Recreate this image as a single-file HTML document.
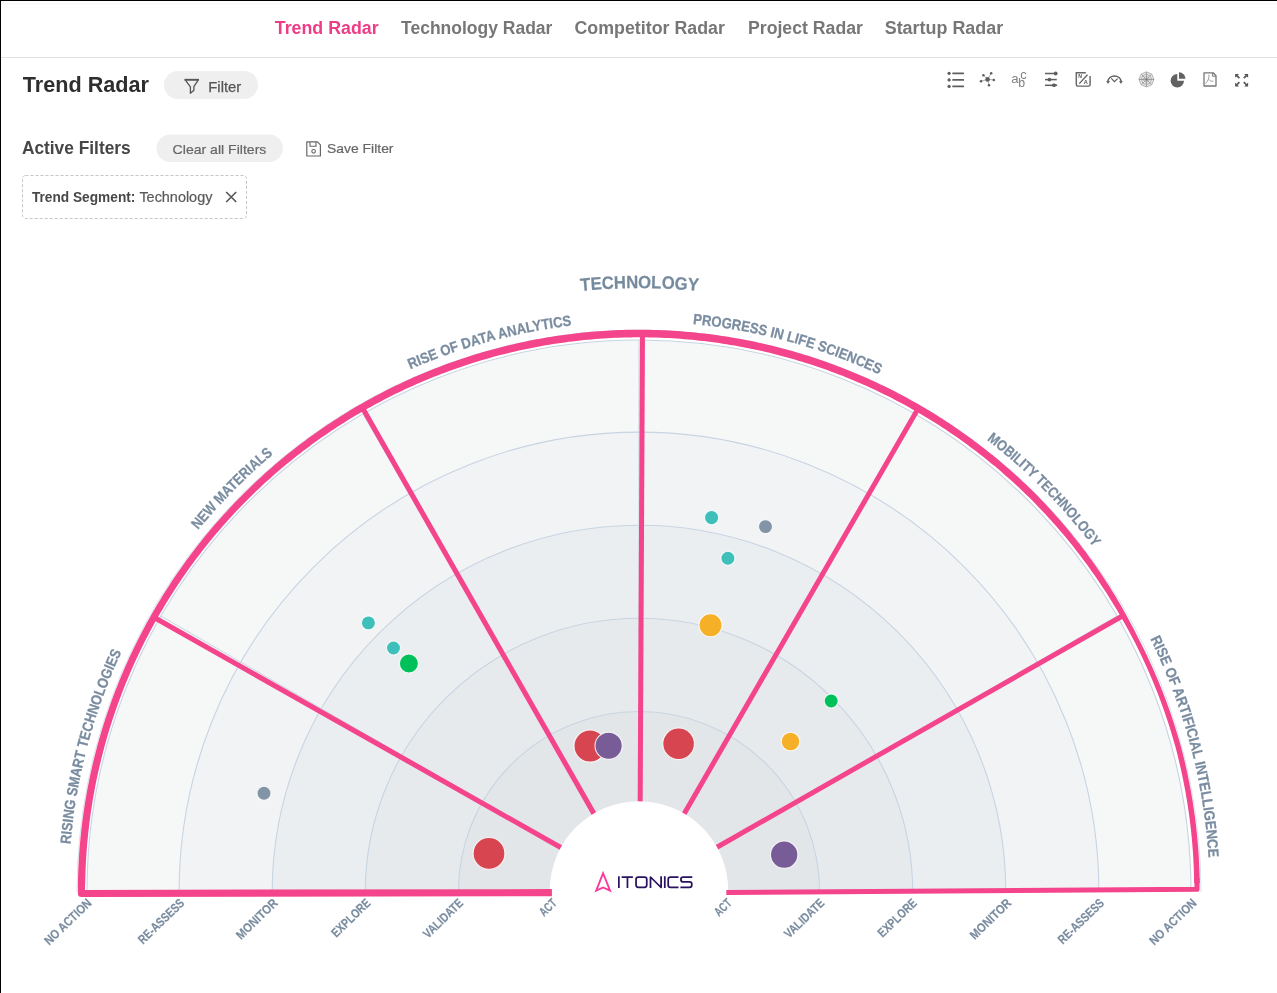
<!DOCTYPE html>
<html><head><meta charset="utf-8"><title>Trend Radar</title>
<style>
html,body{margin:0;padding:0;background:#fff;}
body{width:1277px;height:993px;overflow:hidden;position:relative;font-family:"Liberation Sans",sans-serif;}
svg.main{position:absolute;left:0;top:0;display:block;will-change:transform}
</style></head><body>
<svg class="main" width="1277" height="993" viewBox="0 0 1277 993">
<defs><path id="lblarc" d="M68.50,892.00 A570.5,570.5 0 0 1 1209.50,892.00"/><path id="techarc" d="M35.00,892.00 A604,604 0 0 1 1243.00,892.00"/></defs>
<rect x="0" y="0" width="1277" height="1" fill="#000"/>
<rect x="0" y="0" width="1" height="993" fill="#000"/>
<rect x="1" y="57" width="1276" height="1" fill="#e2e2e2"/>
<rect x="1" y="2.3" width="1276" height="2.7" fill="#fbfbfb"/>
<text x="274.8" y="33.9" font-family="Liberation Sans, sans-serif" font-size="18" font-weight="700" fill="#ec3d86" textLength="103.8" lengthAdjust="spacingAndGlyphs" >Trend Radar</text>
<text x="401.1" y="33.9" font-family="Liberation Sans, sans-serif" font-size="18" font-weight="700" fill="#777" textLength="151.3" lengthAdjust="spacingAndGlyphs" >Technology Radar</text>
<text x="574.5" y="33.9" font-family="Liberation Sans, sans-serif" font-size="18" font-weight="700" fill="#777" textLength="150.4" lengthAdjust="spacingAndGlyphs" >Competitor Radar</text>
<text x="748.0" y="33.9" font-family="Liberation Sans, sans-serif" font-size="18" font-weight="700" fill="#777" textLength="114.9" lengthAdjust="spacingAndGlyphs" >Project Radar</text>
<text x="884.7" y="33.9" font-family="Liberation Sans, sans-serif" font-size="18" font-weight="700" fill="#777" textLength="118.5" lengthAdjust="spacingAndGlyphs" >Startup Radar</text>
<text x="22.8" y="91.6" font-family="Liberation Sans, sans-serif" font-size="22.2" font-weight="700" fill="#2e2e2e" textLength="126.2" lengthAdjust="spacingAndGlyphs" >Trend Radar</text>
<rect x="164" y="71" width="94" height="28" rx="14" fill="#efefef"/>
<path d="M184.4,79.8 H199" fill="none" stroke="#555" stroke-width="1.9"/>
<path d="M185.6,80.4 L190.4,86.8 V93.3 L193.9,90.3 V86.6 L198,80.4" fill="none" stroke="#555" stroke-width="1.3" stroke-linejoin="round"/>
<text x="208.3" y="92" font-family="Liberation Sans, sans-serif" font-size="14.5" font-weight="400" fill="#555" textLength="33" lengthAdjust="spacingAndGlyphs" stroke="#555" stroke-width="0.25">Filter</text>
<text x="21.9" y="154.1" font-family="Liberation Sans, sans-serif" font-size="17.8" font-weight="700" fill="#464646" textLength="108.8" lengthAdjust="spacingAndGlyphs" >Active Filters</text>
<rect x="156.5" y="134.4" width="126.4" height="27.6" rx="13.8" fill="#efefef"/>
<text x="172.6" y="153.9" font-family="Liberation Sans, sans-serif" font-size="13.2" font-weight="400" fill="#666" textLength="93.8" lengthAdjust="spacingAndGlyphs" stroke="#666" stroke-width="0.2">Clear all Filters</text>
<path d="M306.8,141.9 H317.5 L320.4,144.8 V156 H306.8 Z" fill="none" stroke="#666" stroke-width="1.2" stroke-linejoin="round"/>
<path d="M310,142 V146.3 H316 V142" fill="none" stroke="#666" stroke-width="1.1"/>
<circle cx="313.6" cy="151.3" r="1.8" fill="none" stroke="#666" stroke-width="1.1"/>
<text x="327.1" y="153.4" font-family="Liberation Sans, sans-serif" font-size="13" font-weight="400" fill="#666" textLength="66.4" lengthAdjust="spacingAndGlyphs" stroke="#666" stroke-width="0.2">Save Filter</text>
<rect x="22.5" y="175.5" width="224" height="43" rx="3" fill="none" stroke="#c6c6c6" stroke-width="1" stroke-dasharray="3,2"/>
<text x="31.9" y="201.9" font-family="Liberation Sans, sans-serif" font-size="13.8" font-weight="700" fill="#484848" textLength="103.5" lengthAdjust="spacingAndGlyphs" >Trend Segment:</text>
<text x="139.4" y="201.9" font-family="Liberation Sans, sans-serif" font-size="13.8" font-weight="400" fill="#5a5a5a" textLength="73" lengthAdjust="spacingAndGlyphs" stroke="#5a5a5a" stroke-width="0.2">Technology</text>
<path d="M226.2,192 L236.2,202 M236.2,192 L226.2,202" stroke="#555" stroke-width="1.6"/>
<circle cx="949.1" cy="73.3" r="1.65" fill="#5e5e5e"/>
<line x1="953" y1="73.3" x2="963.3" y2="73.3" stroke="#5e5e5e" stroke-width="1.7" stroke-linecap="round"/>
<circle cx="949.1" cy="79.9" r="1.65" fill="#5e5e5e"/>
<line x1="953" y1="79.9" x2="963.3" y2="79.9" stroke="#5e5e5e" stroke-width="1.7" stroke-linecap="round"/>
<circle cx="949.1" cy="86.4" r="1.65" fill="#5e5e5e"/>
<line x1="953" y1="86.4" x2="963.3" y2="86.4" stroke="#5e5e5e" stroke-width="1.7" stroke-linecap="round"/>
<line x1="987.6" y1="79.4" x2="991.2" y2="73.3" stroke="#777" stroke-width="0.6"/>
<circle cx="991.2" cy="73.3" r="1.25" fill="#5e5e5e"/>
<line x1="987.6" y1="79.4" x2="983.4" y2="75.2" stroke="#777" stroke-width="0.6"/>
<circle cx="983.4" cy="75.2" r="1.25" fill="#5e5e5e"/>
<line x1="987.6" y1="79.4" x2="993.8" y2="79.9" stroke="#777" stroke-width="0.6"/>
<circle cx="993.8" cy="79.9" r="1.25" fill="#5e5e5e"/>
<line x1="987.6" y1="79.4" x2="981" y2="81.3" stroke="#777" stroke-width="0.6"/>
<circle cx="981" cy="81.3" r="1.25" fill="#5e5e5e"/>
<line x1="987.6" y1="79.4" x2="989" y2="85.3" stroke="#777" stroke-width="0.6"/>
<circle cx="989" cy="85.3" r="1.25" fill="#5e5e5e"/>
<circle cx="987.6" cy="79.4" r="2.3" fill="#5e5e5e"/>
<text x="1011.3" y="82.7" font-family="Liberation Sans, sans-serif" font-size="13.2" font-weight="400" fill="#808080" >a</text>
<text x="1018.2" y="86.7" font-family="Liberation Sans, sans-serif" font-size="12.3" font-weight="400" fill="#808080" >b</text>
<text x="1020.2" y="78.5" font-family="Liberation Sans, sans-serif" font-size="12.8" font-weight="400" fill="#808080" >c</text>
<line x1="1045" y1="73.5" x2="1056.8" y2="73.5" stroke="#5e5e5e" stroke-width="1.5"/>
<line x1="1045" y1="79.6" x2="1056.8" y2="79.6" stroke="#5e5e5e" stroke-width="1.5"/>
<line x1="1045" y1="85.3" x2="1056.8" y2="85.3" stroke="#5e5e5e" stroke-width="1.5"/>
<circle cx="1055.7" cy="73.5" r="1.9" fill="#5e5e5e"/>
<circle cx="1049.4" cy="79.6" r="1.9" fill="#5e5e5e"/>
<circle cx="1053.6" cy="85.3" r="1.7" fill="#5e5e5e"/><path d="M1054,83.3 L1057.6,85.3 L1054,87.3 Z" fill="#5e5e5e"/>
<path d="M1085.8,72.7 H1076.3 V84.6 Q1076.3,86.1 1077.8,86.1 H1088.6 Q1090.1,86.1 1090.1,84.6 V76.1" fill="none" stroke="#666" stroke-width="1.45"/>
<line x1="1079.3" y1="83.6" x2="1087.5" y2="74.8" stroke="#5e5e5e" stroke-width="1.3"/>
<text x="1078.3" y="77.9" font-family="Liberation Sans, sans-serif" font-size="5.2" font-weight="700" fill="#555" >N</text>
<text x="1083.8" y="83.9" font-family="Liberation Sans, sans-serif" font-size="5.6" font-weight="700" fill="#555" >A</text>
<path d="M1107.7,81.8 A6.9,6.9 0 0 1 1121.3,81.8" fill="none" stroke="#5e5e5e" stroke-width="1.6"/>
<path d="M1106.2,81.3 L1110.2,81.3 L1108.0,83.8 Z M1118.8,81.3 L1122.8,81.3 L1121,83.8 Z" fill="#5e5e5e"/>
<path d="M1111.3,78.4 L1114.4,81.6 L1117.6,78.6" fill="none" stroke="#5e5e5e" stroke-width="1.25"/>
<polygon points="1153.95,79.40 1151.75,84.70 1146.45,86.90 1141.15,84.70 1138.95,79.40 1141.15,74.10 1146.45,71.90 1151.75,74.10" fill="#ececec" stroke="#a0a0a0" stroke-width="0.8"/>
<polygon points="1151.65,79.40 1150.13,83.08 1146.45,84.60 1142.77,83.08 1141.25,79.40 1142.77,75.72 1146.45,74.20 1150.13,75.72" fill="none" stroke="#a0a0a0" stroke-width="0.8"/>
<polygon points="1149.35,79.40 1148.50,81.45 1146.45,82.30 1144.40,81.45 1143.55,79.40 1144.40,77.35 1146.45,76.50 1148.50,77.35" fill="none" stroke="#a0a0a0" stroke-width="0.8"/>
<line x1="1138.95" y1="79.40" x2="1153.95" y2="79.40" stroke="#8a8a8a" stroke-width="0.9"/>
<line x1="1141.15" y1="74.10" x2="1151.75" y2="84.70" stroke="#9c9c9c" stroke-width="0.9"/>
<line x1="1146.45" y1="71.90" x2="1146.45" y2="86.90" stroke="#9c9c9c" stroke-width="0.9"/>
<line x1="1151.75" y1="74.10" x2="1141.15" y2="84.70" stroke="#9c9c9c" stroke-width="0.9"/>
<circle cx="1146.45" cy="79.4" r="1" fill="#777"/>
<path d="M1177.3,80.7 L1177.3,74.00 A6.7,6.7 0 1 0 1184.00,80.7 Z" fill="#626262"/>
<path d="M1179,78.8 L1179,72.30 A6.5,6.5 0 0 1 1185.50,78.8 Z" fill="#626262"/>
<path d="M1204,72.8 H1213.2 L1216,75.8 V86 H1204 Z" fill="none" stroke="#777" stroke-width="1.3" stroke-linejoin="round"/>
<path d="M1212.6,73 V76.2 H1215.8" fill="none" stroke="#777" stroke-width="1"/>
<path d="M1209,74.6 C1209.2,78 1208.2,81 1205.4,83.6 M1209,79.5 C1209.8,81 1211,81.3 1213.4,81.2" fill="none" stroke="#888" stroke-width="0.8"/>
<path d="M1235.1,73.9 L1239.00,73.9 L1235.1,77.80 Z" fill="#555"/>
<line x1="1236.60" y1="75.40" x2="1239.40" y2="78.20" stroke="#555" stroke-width="1.7"/>
<path d="M1248.1,73.9 L1244.20,73.9 L1248.1,77.80 Z" fill="#555"/>
<line x1="1246.60" y1="75.40" x2="1243.80" y2="78.20" stroke="#555" stroke-width="1.7"/>
<path d="M1235.1,86.5 L1239.00,86.5 L1235.1,82.60 Z" fill="#555"/>
<line x1="1236.60" y1="85.00" x2="1239.40" y2="82.20" stroke="#555" stroke-width="1.7"/>
<path d="M1248.1,86.5 L1244.20,86.5 L1248.1,82.60 Z" fill="#555"/>
<line x1="1246.60" y1="85.00" x2="1243.80" y2="82.20" stroke="#555" stroke-width="1.7"/>
<path d="M458.40,892.00 A180.6,180.6 0 0 1 819.60,892.00 L726.50,892.00 A87.5,87.5 0 0 0 551.50,892.00 Z" fill="#e3e6e9"/>
<path d="M365.30,892.00 A273.7,273.7 0 0 1 912.70,892.00 L819.60,892.00 A180.6,180.6 0 0 0 458.40,892.00 Z" fill="#e7eaed"/>
<path d="M272.20,892.00 A366.8,366.8 0 0 1 1005.80,892.00 L912.70,892.00 A273.7,273.7 0 0 0 365.30,892.00 Z" fill="#ebeef1"/>
<path d="M179.10,892.00 A459.9,459.9 0 0 1 1098.90,892.00 L1005.80,892.00 A366.8,366.8 0 0 0 272.20,892.00 Z" fill="#f1f3f5"/>
<path d="M87.00,892.00 A552.0,552.0 0 0 1 1191.00,892.00 L1098.90,892.00 A459.9,459.9 0 0 0 179.10,892.00 Z" fill="#f6f8f8"/>
<path d="M458.40,892.00 A180.6,180.6 0 0 1 819.60,892.00" fill="none" stroke="#c8d4e2" stroke-width="1.1"/>
<path d="M365.30,892.00 A273.7,273.7 0 0 1 912.70,892.00" fill="none" stroke="#c8d4e2" stroke-width="1.1"/>
<path d="M272.20,892.00 A366.8,366.8 0 0 1 1005.80,892.00" fill="none" stroke="#c8d4e2" stroke-width="1.1"/>
<path d="M179.10,892.00 A459.9,459.9 0 0 1 1098.90,892.00" fill="none" stroke="#c8d4e2" stroke-width="1.1"/>
<path d="M87.00,892.00 A552.0,552.0 0 0 1 1191.00,892.00" fill="none" stroke="#c8d4e2" stroke-width="1.1"/>
<path d="M77.00,892.00 A562,562 0 0 1 1201.00,892.00" fill="none" stroke="#d8e1ea" stroke-width="1"/>
<line x1="562.79" y1="848.00" x2="160.95" y2="616.00" stroke="#cbd5e0" stroke-width="1"/>
<line x1="595.00" y1="815.79" x2="363.00" y2="413.95" stroke="#cbd5e0" stroke-width="1"/>
<line x1="639.00" y1="804.00" x2="639.00" y2="340.00" stroke="#cbd5e0" stroke-width="1"/>
<line x1="683.00" y1="815.79" x2="915.00" y2="413.95" stroke="#cbd5e0" stroke-width="1"/>
<line x1="715.21" y1="848.00" x2="1117.05" y2="616.00" stroke="#cbd5e0" stroke-width="1"/>
<path d="M77.90,885.14 L77.96,881.23 L78.05,877.31 L78.17,873.40 L78.32,869.48 L78.49,865.57 L78.69,861.65 L78.92,857.74 L79.18,853.83 L79.46,849.93 L79.77,846.02 L80.11,842.12 L80.47,838.22 L80.86,834.32 L81.28,830.43 L81.73,826.54 L82.20,822.65 L82.70,818.76 L83.23,814.88 L83.78,811.00 L84.36,807.13 L84.97,803.26 L85.61,799.39 L86.27,795.53 L86.96,791.68 L87.68,787.83 L88.42,783.98 L89.19,780.14 L89.99,776.30 L90.81,772.48 L91.66,768.65 L92.54,764.83 L93.44,761.02 L94.37,757.22 L95.33,753.42 L96.31,749.63 L97.32,745.84 L98.36,742.07 L99.42,738.30 L100.51,734.53 L101.62,730.78 L102.77,727.03 L103.93,723.29 L105.13,719.56 L106.35,715.84 L107.59,712.13 L108.86,708.42 L110.16,704.73 L111.48,701.04 L112.83,697.36 L114.20,693.70 L115.60,690.04 L117.03,686.39 L118.48,682.75 L119.96,679.12 L121.46,675.51 L122.98,671.90 L124.54,668.30 L126.11,664.72 L127.71,661.15 L129.34,657.58 L130.99,654.03 L132.67,650.49 L134.37,646.96 L136.09,643.45 L137.84,639.94 L139.62,636.45 L141.42,632.97 L143.24,629.51 L145.09,626.05 L146.96,622.61 L148.85,619.19 L150.77,615.77 L152.71,612.37 L154.67,608.98 L156.65,605.60 L158.66,602.24 L160.68,598.89 L162.73,595.55 L164.81,592.23 L166.90,588.92 L169.02,585.63 L171.17,582.35 L173.33,579.08 L175.52,575.84 L177.73,572.60 L179.97,569.38 L182.22,566.18 L184.50,563.00 L186.80,559.83 L189.12,556.67 L191.47,553.53 L193.83,550.41 L196.22,547.31 L198.63,544.22 L201.06,541.15 L203.52,538.09 L205.99,535.06 L208.49,532.04 L211.00,529.03 L213.54,526.05 L216.10,523.08 L218.68,520.13 L221.28,517.20 L223.90,514.29 L226.54,511.39 L229.20,508.52 L231.88,505.66 L234.58,502.82 L237.30,500.00 L240.04,497.20 L242.80,494.42 L245.58,491.65 L248.38,488.91 L251.20,486.19 L254.03,483.48 L256.89,480.80 L259.76,478.13 L262.65,475.49 L265.57,472.87 L268.49,470.26 L271.44,467.68 L274.41,465.12 L277.39,462.57 L280.39,460.05 L283.41,457.55 L286.45,455.08 L289.50,452.62 L292.57,450.18 L295.66,447.77 L298.76,445.37 L301.88,443.00 L305.02,440.65 L308.17,438.32 L311.34,436.02 L314.53,433.73 L317.73,431.47 L320.95,429.23 L324.18,427.02 L327.43,424.82 L330.70,422.65 L333.98,420.50 L337.27,418.38 L340.58,416.28 L343.90,414.20 L347.24,412.14 L350.59,410.11 L353.96,408.10 L357.34,406.11 L360.73,404.15 L364.14,402.21 L367.56,400.30 L371.00,398.40 L374.45,396.54 L377.91,394.69 L381.38,392.88 L384.87,391.08 L388.37,389.31 L391.88,387.57 L395.40,385.85 L398.94,384.15 L402.49,382.48 L406.05,380.83 L409.62,379.21 L413.20,377.61 L416.79,376.04 L420.40,374.49 L424.01,372.97 L427.64,371.47 L431.27,370.00 L434.92,368.56 L438.57,367.14 L442.24,365.74 L445.92,364.37 L449.60,363.03 L453.30,361.71 L457.00,360.42 L460.71,359.15 L464.43,357.91 L468.16,356.70 L471.90,355.51 L475.65,354.35 L479.40,353.21 L483.17,352.10 L486.94,351.02 L490.72,349.96 L494.50,348.93 L498.29,347.93 L502.09,346.95 L505.90,346.00 L509.71,345.07 L513.53,344.17 L517.36,343.30 L521.19,342.46 L525.03,341.64 L528.87,340.85 L532.72,340.09 L536.57,339.35 L540.43,338.64 L544.30,337.95 L548.16,337.30 L552.04,336.67 L555.92,336.07 L559.80,335.49 L563.68,334.94 L567.57,334.42 L571.47,333.93 L575.36,333.46 L579.26,333.02 L583.17,332.61 L587.07,332.22 L590.98,331.86 L594.89,331.53 L598.80,331.23 L602.72,330.96 L606.64,330.71 L610.55,330.49 L614.48,330.29 L618.40,330.12 L622.32,329.99 L626.24,329.87 L630.17,329.79 L634.09,329.73 L638.02,329.70 L641.94,329.71 L645.87,329.75 L649.79,329.81 L653.72,329.90 L657.64,330.02 L661.57,330.17 L665.49,330.35 L669.41,330.55 L673.33,330.78 L677.24,331.03 L681.16,331.32 L685.07,331.63 L688.98,331.97 L692.89,332.33 L696.80,332.72 L700.70,333.14 L704.60,333.59 L708.49,334.07 L712.39,334.57 L716.28,335.10 L720.16,335.65 L724.04,336.24 L727.92,336.85 L731.79,337.48 L735.66,338.15 L739.53,338.84 L743.38,339.56 L747.24,340.30 L751.09,341.08 L754.93,341.87 L758.77,342.70 L762.60,343.55 L766.42,344.43 L770.24,345.34 L774.05,346.27 L777.86,347.23 L781.66,348.22 L785.45,349.23 L789.24,350.27 L793.01,351.33 L796.78,352.42 L800.55,353.54 L804.30,354.68 L808.05,355.85 L811.78,357.05 L815.51,358.27 L819.23,359.52 L822.95,360.80 L826.65,362.10 L830.34,363.42 L834.03,364.77 L837.70,366.15 L841.37,367.55 L845.02,368.98 L848.67,370.44 L852.30,371.92 L855.93,373.42 L859.54,374.95 L863.14,376.50 L866.74,378.08 L870.32,379.69 L873.89,381.32 L877.44,382.98 L880.99,384.66 L884.53,386.36 L888.05,388.09 L891.56,389.84 L895.06,391.62 L898.54,393.42 L902.02,395.25 L905.48,397.10 L908.92,398.98 L912.36,400.88 L915.78,402.80 L919.18,404.75 L922.58,406.72 L925.96,408.71 L929.32,410.73 L932.67,412.77 L936.01,414.83 L939.33,416.92 L942.64,419.03 L945.93,421.17 L949.21,423.32 L952.47,425.50 L955.72,427.71 L958.95,429.93 L962.17,432.18 L965.37,434.45 L968.55,436.74 L971.72,439.05 L974.87,441.39 L978.01,443.75 L981.13,446.13 L984.23,448.53 L987.32,450.95 L990.39,453.40 L993.44,455.87 L996.47,458.35 L999.49,460.86 L1002.49,463.39 L1005.47,465.94 L1008.43,468.51 L1011.38,471.10 L1014.30,473.72 L1017.21,476.35 L1020.10,479.00 L1022.98,481.67 L1025.83,484.37 L1028.66,487.08 L1031.48,489.81 L1034.27,492.56 L1037.05,495.34 L1039.78,498.15 L1042.50,500.98 L1045.19,503.83 L1047.87,506.70 L1050.52,509.59 L1053.16,512.49 L1055.77,515.42 L1058.37,518.36 L1060.94,521.32 L1063.49,524.30 L1066.02,527.29 L1068.53,530.30 L1071.02,533.33 L1073.49,536.38 L1075.93,539.44 L1078.36,542.52 L1080.76,545.62 L1083.14,548.73 L1085.50,551.86 L1087.84,555.00 L1090.15,558.17 L1092.44,561.34 L1094.71,564.54 L1096.96,567.75 L1099.18,570.97 L1101.37,574.22 L1103.54,577.48 L1105.69,580.76 L1107.81,584.05 L1109.91,587.35 L1111.99,590.67 L1114.04,594.01 L1116.07,597.35 L1118.08,600.71 L1120.06,604.09 L1122.02,607.48 L1123.96,610.88 L1125.86,614.30 L1127.74,617.73 L1129.59,621.18 L1131.42,624.64 L1133.22,628.11 L1135.00,631.59 L1136.75,635.09 L1138.50,638.59 L1140.29,642.07 L1142.05,645.56 L1143.79,649.06 L1145.50,652.58 L1147.19,656.10 L1148.86,659.64 L1150.50,663.20 L1152.11,666.76 L1153.71,670.33 L1155.27,673.92 L1156.81,677.52 L1158.33,681.12 L1159.82,684.74 L1161.28,688.37 L1162.72,692.01 L1164.14,695.66 L1165.53,699.32 L1166.89,702.99 L1168.23,706.67 L1169.54,710.36 L1170.83,714.05 L1172.09,717.76 L1173.32,721.48 L1174.53,725.20 L1175.72,728.93 L1176.87,732.67 L1178.01,736.42 L1179.11,740.18 L1180.19,743.95 L1181.23,747.72 L1182.22,751.51 L1183.18,755.31 L1184.11,759.12 L1185.02,762.93 L1185.90,766.74 L1186.75,770.57 L1187.58,774.40 L1188.38,778.23 L1189.15,782.07 L1189.90,785.91 L1190.62,789.76 L1191.31,793.62 L1191.97,797.48 L1192.61,801.34 L1193.22,805.21 L1193.81,809.08 L1194.37,812.96 L1194.90,816.84 L1195.40,820.72 L1195.88,824.61 L1196.32,828.50 L1196.75,832.39 L1197.14,836.29 L1197.51,840.19 L1197.85,844.09 L1198.16,847.99 L1198.45,851.90 L1198.70,855.81 L1198.94,859.71 L1199.14,863.62 L1199.32,867.54 L1199.47,871.45 L1199.59,875.36 L1199.68,879.28 L1199.75,883.19 L1194.16,883.28 L1194.10,879.40 L1194.01,875.53 L1193.90,871.65 L1193.75,867.78 L1193.59,863.91 L1193.39,860.03 L1193.17,856.16 L1192.92,852.29 L1192.64,848.43 L1192.33,844.56 L1192.00,840.70 L1191.64,836.84 L1191.26,832.98 L1190.85,829.13 L1190.41,825.27 L1189.94,821.42 L1189.45,817.58 L1188.93,813.73 L1188.38,809.89 L1187.81,806.06 L1187.21,802.23 L1186.58,798.40 L1185.93,794.58 L1185.25,790.76 L1184.54,786.95 L1183.81,783.14 L1183.05,779.33 L1182.26,775.54 L1181.45,771.74 L1180.61,767.96 L1179.74,764.17 L1178.85,760.40 L1177.93,756.63 L1176.98,752.87 L1176.01,749.11 L1174.99,745.37 L1173.93,741.64 L1172.85,737.91 L1171.74,734.19 L1170.61,730.48 L1169.45,726.78 L1168.27,723.09 L1167.05,719.41 L1165.82,715.73 L1164.56,712.06 L1163.27,708.40 L1161.95,704.76 L1160.62,701.12 L1159.25,697.49 L1157.86,693.87 L1156.45,690.26 L1155.01,686.66 L1153.54,683.07 L1152.05,679.49 L1150.54,675.92 L1149.00,672.36 L1147.44,668.81 L1145.85,665.28 L1144.23,661.75 L1142.60,658.24 L1140.93,654.74 L1139.25,651.25 L1137.54,647.77 L1135.80,644.30 L1134.04,640.85 L1132.26,637.41 L1130.45,633.98 L1128.61,630.57 L1126.76,627.17 L1124.88,623.78 L1122.97,620.41 L1121.05,617.05 L1119.10,613.70 L1117.14,610.36 L1115.15,607.03 L1113.14,603.72 L1111.11,600.42 L1109.05,597.14 L1106.97,593.87 L1104.87,590.61 L1102.75,587.38 L1100.60,584.15 L1098.43,580.94 L1096.24,577.75 L1094.03,574.57 L1091.80,571.40 L1089.55,568.25 L1087.28,565.11 L1084.99,561.99 L1082.68,558.88 L1080.34,555.79 L1077.98,552.71 L1075.61,549.66 L1073.21,546.62 L1070.79,543.59 L1068.35,540.58 L1065.88,537.59 L1063.40,534.62 L1060.90,531.67 L1058.37,528.73 L1055.83,525.81 L1053.26,522.91 L1050.68,520.02 L1048.07,517.16 L1045.44,514.31 L1042.80,511.48 L1040.13,508.67 L1037.45,505.88 L1034.75,503.10 L1032.02,500.35 L1029.28,497.61 L1026.51,494.90 L1023.73,492.20 L1020.93,489.53 L1018.11,486.87 L1015.27,484.24 L1012.41,481.62 L1009.54,479.03 L1006.65,476.45 L1003.74,473.90 L1000.81,471.36 L997.86,468.85 L994.90,466.35 L991.92,463.88 L988.92,461.43 L985.90,458.99 L982.87,456.58 L979.82,454.20 L976.76,451.83 L973.67,449.48 L970.58,447.16 L967.46,444.85 L964.33,442.57 L961.18,440.31 L958.02,438.08 L954.85,435.86 L951.65,433.67 L948.44,431.50 L945.22,429.35 L941.98,427.22 L938.73,425.12 L935.46,423.04 L932.18,420.99 L928.88,418.95 L925.57,416.94 L922.25,414.95 L918.91,412.99 L915.56,411.05 L912.20,409.13 L908.82,407.23 L905.43,405.36 L902.02,403.52 L898.60,401.69 L895.17,399.89 L891.73,398.12 L888.28,396.37 L884.81,394.64 L881.33,392.94 L877.84,391.26 L874.34,389.61 L870.83,387.98 L867.30,386.37 L863.76,384.79 L860.22,383.23 L856.66,381.70 L853.09,380.20 L849.51,378.72 L845.92,377.26 L842.32,375.83 L838.72,374.43 L835.10,373.04 L831.47,371.69 L827.83,370.36 L824.18,369.06 L820.53,367.78 L816.86,366.52 L813.19,365.30 L809.51,364.09 L805.82,362.92 L802.12,361.77 L798.41,360.64 L794.70,359.54 L790.98,358.47 L787.25,357.42 L783.51,356.40 L779.77,355.41 L776.02,354.44 L772.27,353.50 L768.50,352.58 L764.73,351.69 L760.96,350.83 L757.18,349.99 L753.39,349.18 L749.60,348.40 L745.80,347.64 L742.00,346.91 L738.19,346.21 L734.37,345.53 L730.56,344.88 L726.74,344.25 L722.91,343.65 L719.08,343.08 L715.24,342.54 L711.41,342.02 L707.56,341.53 L703.72,341.07 L699.87,340.63 L696.02,340.22 L692.17,339.84 L688.31,339.48 L684.45,339.15 L680.59,338.85 L676.73,338.57 L672.86,338.32 L669.00,338.10 L665.13,337.91 L661.26,337.74 L657.39,337.60 L653.52,337.49 L649.65,337.40 L645.78,337.34 L641.90,337.31 L638.03,337.30 L634.16,337.33 L630.29,337.38 L626.42,337.46 L622.54,337.56 L618.67,337.70 L614.81,337.86 L610.94,338.04 L607.07,338.26 L603.21,338.50 L599.34,338.76 L595.48,339.06 L591.62,339.38 L587.77,339.73 L583.91,340.10 L580.06,340.51 L576.21,340.94 L572.37,341.39 L568.53,341.87 L564.69,342.38 L560.85,342.92 L557.02,343.48 L553.20,344.07 L549.37,344.69 L545.56,345.33 L541.74,346.00 L537.93,346.70 L534.13,347.42 L530.33,348.17 L526.54,348.95 L522.75,349.75 L518.97,350.58 L515.19,351.44 L511.42,352.32 L507.66,353.23 L503.90,354.16 L500.15,355.12 L496.41,356.11 L492.67,357.12 L488.94,358.16 L485.22,359.22 L481.51,360.31 L477.80,361.43 L474.10,362.57 L470.41,363.74 L466.73,364.94 L463.05,366.15 L459.39,367.40 L455.73,368.67 L452.09,369.97 L448.45,371.29 L444.82,372.64 L441.20,374.01 L437.59,375.41 L433.99,376.83 L430.40,378.28 L426.82,379.75 L423.25,381.25 L419.69,382.77 L416.14,384.32 L412.61,385.89 L409.08,387.49 L405.57,389.11 L402.06,390.75 L398.57,392.42 L395.09,394.12 L391.62,395.84 L388.17,397.58 L384.72,399.35 L381.29,401.14 L377.87,402.95 L374.47,404.79 L371.07,406.65 L367.69,408.54 L364.33,410.45 L360.98,412.38 L357.64,414.34 L354.31,416.32 L351.00,418.32 L347.70,420.35 L344.42,422.40 L341.15,424.47 L337.89,426.56 L334.66,428.68 L331.43,430.82 L328.22,432.98 L325.03,435.17 L321.85,437.37 L318.68,439.60 L315.54,441.85 L312.40,444.12 L309.29,446.42 L306.19,448.73 L303.10,451.07 L300.04,453.43 L296.98,455.81 L293.95,458.21 L290.93,460.64 L287.93,463.08 L284.95,465.54 L281.98,468.03 L279.04,470.54 L276.11,473.06 L273.19,475.61 L270.30,478.18 L267.42,480.76 L264.56,483.37 L261.72,486.00 L258.90,488.65 L256.09,491.31 L253.31,494.00 L250.54,496.70 L247.80,499.43 L245.07,502.17 L242.36,504.93 L239.67,507.72 L237.00,510.52 L234.35,513.34 L231.72,516.17 L229.11,519.03 L226.52,521.90 L223.95,524.79 L221.40,527.70 L218.87,530.63 L216.36,533.57 L213.87,536.54 L211.40,539.52 L208.95,542.51 L206.53,545.53 L204.12,548.56 L201.74,551.60 L199.38,554.67 L197.04,557.75 L194.72,560.84 L192.42,563.95 L190.14,567.08 L187.89,570.23 L185.66,573.39 L183.45,576.56 L181.26,579.75 L179.10,582.96 L176.95,586.18 L174.83,589.41 L172.74,592.66 L170.66,595.93 L168.61,599.21 L166.58,602.50 L164.58,605.81 L162.59,609.13 L160.63,612.46 L158.70,615.81 L156.78,619.17 L154.89,622.55 L153.02,625.94 L151.18,629.34 L149.36,632.75 L147.57,636.18 L145.79,639.61 L144.05,643.06 L142.32,646.53 L140.62,650.00 L138.95,653.49 L137.30,656.99 L135.67,660.50 L134.07,664.02 L132.49,667.55 L130.94,671.09 L129.42,674.64 L127.91,678.21 L126.44,681.78 L124.98,685.37 L123.55,688.96 L122.15,692.57 L120.78,696.18 L119.42,699.80 L118.10,703.44 L116.80,707.08 L115.52,710.73 L114.27,714.39 L113.04,718.06 L111.85,721.73 L110.67,725.42 L109.53,729.11 L108.40,732.81 L107.31,736.52 L106.24,740.24 L105.19,743.96 L104.18,747.69 L103.18,751.43 L102.22,755.18 L101.28,758.93 L100.37,762.69 L99.48,766.45 L98.62,770.22 L97.78,774.00 L96.98,777.78 L96.19,781.56 L95.44,785.36 L94.71,789.16 L94.01,792.96 L93.33,796.77 L92.68,800.58 L92.06,804.39 L91.47,808.22 L90.90,812.04 L90.35,815.87 L89.84,819.70 L89.35,823.54 L88.89,827.38 L88.45,831.22 L88.04,835.06 L87.66,838.91 L87.31,842.76 L86.98,846.62 L86.68,850.47 L86.41,854.33 L86.16,858.19 L85.94,862.05 L85.75,865.91 L85.58,869.77 L85.44,873.64 L85.33,877.50 L85.24,881.37 L85.19,885.23 Z" fill="#f4448b"/>
<line x1="586.78" y1="862.25" x2="155.08" y2="618.01" stroke="#f4448b" stroke-width="5.1"/>
<line x1="608.87" y1="839.88" x2="363.12" y2="409.04" stroke="#f4448b" stroke-width="5.1"/>
<line x1="640.04" y1="832.00" x2="642.47" y2="336.01" stroke="#f4448b" stroke-width="5.0"/>
<line x1="669.00" y1="840.04" x2="917.00" y2="410.49" stroke="#f4448b" stroke-width="5.0"/>
<line x1="691.12" y1="861.97" x2="1122.83" y2="615.73" stroke="#f4448b" stroke-width="5.0"/>
<circle cx="639" cy="890.4" r="89.2" fill="#fff"/>
<path d="M81.45,884 L81.45,893.45 L551.9,892.6" fill="none" stroke="#f4448b" stroke-width="7.1" stroke-linejoin="round"/>
<path d="M726.3,892.45 L1197,889.3 L1197,878" fill="none" stroke="#f4448b" stroke-width="5.1" stroke-linejoin="round"/>
<circle cx="368.4" cy="622.9" r="7.0" fill="#3fbfba" stroke="#fff" stroke-opacity="0.85" stroke-width="1.1"/>
<circle cx="393.5" cy="648.0" r="7.0" fill="#3fbfba" stroke="#fff" stroke-opacity="0.85" stroke-width="1.1"/>
<circle cx="408.9" cy="663.5" r="9.5" fill="#00c05a" stroke="#fff" stroke-opacity="0.85" stroke-width="1.1"/>
<circle cx="711.6" cy="517.6" r="7.1" fill="#3fbfba" stroke="#fff" stroke-opacity="0.85" stroke-width="1.1"/>
<circle cx="765.5" cy="526.6" r="7.0" fill="#8394a7" stroke="#fff" stroke-opacity="0.85" stroke-width="1.1"/>
<circle cx="727.9" cy="558.2" r="7.0" fill="#3fbfba" stroke="#fff" stroke-opacity="0.85" stroke-width="1.1"/>
<circle cx="710.5" cy="625.3" r="11.5" fill="#f5b027" stroke="#fff" stroke-opacity="0.85" stroke-width="1.1"/>
<circle cx="831.2" cy="701.0" r="7.0" fill="#00c05a" stroke="#fff" stroke-opacity="0.85" stroke-width="1.1"/>
<circle cx="790.5" cy="741.5" r="9.3" fill="#f5b027" stroke="#fff" stroke-opacity="0.85" stroke-width="1.1"/>
<circle cx="264.0" cy="793.3" r="7.0" fill="#8394a7" stroke="#fff" stroke-opacity="0.85" stroke-width="1.1"/>
<circle cx="590.0" cy="746.0" r="16.0" fill="#d64550" stroke="#fff" stroke-opacity="0.85" stroke-width="1.1"/>
<circle cx="608.6" cy="745.8" r="13.6" fill="#775c98" stroke="#fff" stroke-opacity="0.85" stroke-width="1.1"/>
<circle cx="678.6" cy="743.8" r="15.8" fill="#d64550" stroke="#fff" stroke-opacity="0.85" stroke-width="1.1"/>
<circle cx="489.0" cy="853.4" r="15.9" fill="#d64550" stroke="#fff" stroke-opacity="0.85" stroke-width="1.1"/>
<circle cx="784.2" cy="854.7" r="13.7" fill="#775c98" stroke="#fff" stroke-opacity="0.85" stroke-width="1.1"/>
<text font-family="Liberation Sans, sans-serif" font-weight="700" font-size="14.8" fill="#7a8ca0" stroke="#7a8ca0" stroke-width="0.25"><textPath href="#lblarc" startOffset="8.250%" text-anchor="middle" textLength="200" lengthAdjust="spacingAndGlyphs">RISING SMART TECHNOLOGIES</textPath></text>
<text font-family="Liberation Sans, sans-serif" font-weight="700" font-size="14.8" fill="#7a8ca0" stroke="#7a8ca0" stroke-width="0.25"><textPath href="#lblarc" startOffset="24.861%" text-anchor="middle" textLength="107" lengthAdjust="spacingAndGlyphs">NEW MATERIALS</textPath></text>
<text font-family="Liberation Sans, sans-serif" font-weight="700" font-size="14.8" fill="#7a8ca0" stroke="#7a8ca0" stroke-width="0.25"><textPath href="#lblarc" startOffset="41.556%" text-anchor="middle" textLength="168" lengthAdjust="spacingAndGlyphs">RISE OF DATA ANALYTICS</textPath></text>
<text font-family="Liberation Sans, sans-serif" font-weight="700" font-size="14.8" fill="#7a8ca0" stroke="#7a8ca0" stroke-width="0.25"><textPath href="#lblarc" startOffset="58.417%" text-anchor="middle" textLength="194" lengthAdjust="spacingAndGlyphs">PROGRESS IN LIFE SCIENCES</textPath></text>
<text font-family="Liberation Sans, sans-serif" font-weight="700" font-size="14.8" fill="#7a8ca0" stroke="#7a8ca0" stroke-width="0.25"><textPath href="#lblarc" startOffset="75.111%" text-anchor="middle" textLength="152" lengthAdjust="spacingAndGlyphs">MOBILITY TECHNOLOGY</textPath></text>
<text font-family="Liberation Sans, sans-serif" font-weight="700" font-size="14.8" fill="#7a8ca0" stroke="#7a8ca0" stroke-width="0.25"><textPath href="#lblarc" startOffset="91.722%" text-anchor="middle" textLength="228" lengthAdjust="spacingAndGlyphs">RISE OF ARTIFICIAL INTELLIGENCE</textPath></text>
<text font-family="Liberation Sans, sans-serif" font-weight="700" font-size="17.9" fill="#768a9e" stroke="#768a9e" stroke-width="0.2"><textPath href="#techarc" startOffset="50.03%" text-anchor="middle" textLength="118" lengthAdjust="spacingAndGlyphs">TECHNOLOGY</textPath></text>
<text x="92.4" y="904.0" transform="rotate(-44 92.4 904.0)" text-anchor="end" font-family="Liberation Sans, sans-serif" font-weight="700" font-size="12.6" fill="#7a8ca0" stroke="#7a8ca0" stroke-width="0.2" textLength="60.1" lengthAdjust="spacingAndGlyphs">NO ACTION</text>
<text x="185.2" y="904.0" transform="rotate(-44 185.2 904.0)" text-anchor="end" font-family="Liberation Sans, sans-serif" font-weight="700" font-size="12.6" fill="#7a8ca0" stroke="#7a8ca0" stroke-width="0.2" textLength="58.6" lengthAdjust="spacingAndGlyphs">RE-ASSESS</text>
<text x="278.4" y="904.0" transform="rotate(-44 278.4 904.0)" text-anchor="end" font-family="Liberation Sans, sans-serif" font-weight="700" font-size="12.6" fill="#7a8ca0" stroke="#7a8ca0" stroke-width="0.2" textLength="52.0" lengthAdjust="spacingAndGlyphs">MONITOR</text>
<text x="371.3" y="904.0" transform="rotate(-44 371.3 904.0)" text-anchor="end" font-family="Liberation Sans, sans-serif" font-weight="700" font-size="12.6" fill="#7a8ca0" stroke="#7a8ca0" stroke-width="0.2" textLength="48.800000000000004" lengthAdjust="spacingAndGlyphs">EXPLORE</text>
<text x="464.1" y="904.0" transform="rotate(-44 464.1 904.0)" text-anchor="end" font-family="Liberation Sans, sans-serif" font-weight="700" font-size="12.6" fill="#7a8ca0" stroke="#7a8ca0" stroke-width="0.2" textLength="50.2" lengthAdjust="spacingAndGlyphs">VALIDATE</text>
<text x="557.4" y="904.0" transform="rotate(-44 557.4 904.0)" text-anchor="end" font-family="Liberation Sans, sans-serif" font-weight="700" font-size="12.6" fill="#7a8ca0" stroke="#7a8ca0" stroke-width="0.2" textLength="18.599999999999998" lengthAdjust="spacingAndGlyphs">ACT</text>
<text x="732.4" y="904.0" transform="rotate(-44 732.4 904.0)" text-anchor="end" font-family="Liberation Sans, sans-serif" font-weight="700" font-size="12.6" fill="#7a8ca0" stroke="#7a8ca0" stroke-width="0.2" textLength="18.599999999999998" lengthAdjust="spacingAndGlyphs">ACT</text>
<text x="825.2" y="904.0" transform="rotate(-44 825.2 904.0)" text-anchor="end" font-family="Liberation Sans, sans-serif" font-weight="700" font-size="12.6" fill="#7a8ca0" stroke="#7a8ca0" stroke-width="0.2" textLength="50.2" lengthAdjust="spacingAndGlyphs">VALIDATE</text>
<text x="917.6" y="904.0" transform="rotate(-44 917.6 904.0)" text-anchor="end" font-family="Liberation Sans, sans-serif" font-weight="700" font-size="12.6" fill="#7a8ca0" stroke="#7a8ca0" stroke-width="0.2" textLength="48.800000000000004" lengthAdjust="spacingAndGlyphs">EXPLORE</text>
<text x="1012.1" y="904.0" transform="rotate(-44 1012.1 904.0)" text-anchor="end" font-family="Liberation Sans, sans-serif" font-weight="700" font-size="12.6" fill="#7a8ca0" stroke="#7a8ca0" stroke-width="0.2" textLength="52.0" lengthAdjust="spacingAndGlyphs">MONITOR</text>
<text x="1104.9" y="904.0" transform="rotate(-44 1104.9 904.0)" text-anchor="end" font-family="Liberation Sans, sans-serif" font-weight="700" font-size="12.6" fill="#7a8ca0" stroke="#7a8ca0" stroke-width="0.2" textLength="58.6" lengthAdjust="spacingAndGlyphs">RE-ASSESS</text>
<text x="1197.4" y="904.0" transform="rotate(-44 1197.4 904.0)" text-anchor="end" font-family="Liberation Sans, sans-serif" font-weight="700" font-size="12.6" fill="#7a8ca0" stroke="#7a8ca0" stroke-width="0.2" textLength="60.1" lengthAdjust="spacingAndGlyphs">NO ACTION</text>
<path d="M603.1,873.2 L596.2,890.6 L603.1,887.5 L610.1,890.6 Z" fill="none" stroke="#fa3a9c" stroke-width="1.9" stroke-linejoin="miter"/>
<path d="M618.85,876.3 V888 M621.6,877.1 H632.9 M627.45,877.1 V888 M638.3,877.05 H644.5 Q646.75,877.05 646.75,879.3 V885.1 Q646.75,887.35 644.5,887.35 H638.3 Q636.05,887.35 636.05,885.1 V879.3 Q636.05,877.05 638.3,877.05 Z M650.5,888 V877 L661.1,887.5 V876.3 M664.8,876.3 V888 M678.5,877.05 H670.5 Q668.2,877.05 668.2,879.4 V885 Q668.2,887.4 670.5,887.4 H678.5 M692.3,877.05 H683.2 Q680.9,877.05 680.9,879.4 Q680.9,881.95 683.2,881.95 H689.5 Q691.8,881.95 691.8,884.3 V885.1 Q691.8,887.45 689.5,887.45 H680.4" fill="none" stroke="#2a1260" stroke-width="1.75" stroke-linejoin="round"/>
</svg>
</body></html>
